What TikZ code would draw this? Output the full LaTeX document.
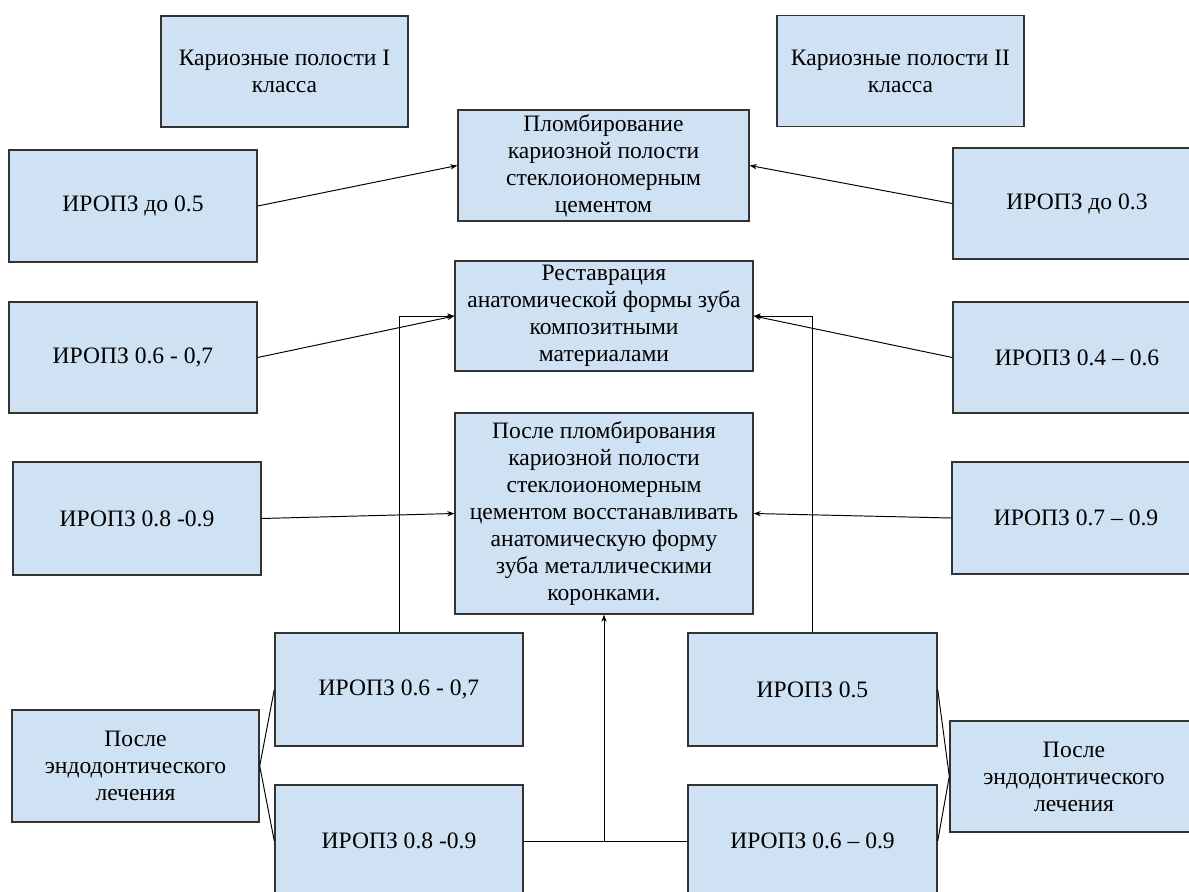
\documentclass[tikz,border=0pt]{standalone}
\usepackage{fontspec}
\setmainfont{Liberation Serif}
\usepackage{tikz}
\usetikzlibrary{arrows.meta}
\definecolor{boxfill}{HTML}{CFE2F3}
\definecolor{boxline}{HTML}{333333}

\begin{document}
\begin{tikzpicture}[x=0.2mm,y=0.2mm]
\tikzstyle{every node}+=[inner sep=0pt]
\tikzstyle{box}=[draw=boxline,fill=boxfill,line width=0.8pt,align=center,font=\fontsize{13.4}{15.4}\selectfont,minimum width=49.6mm,minimum height=22.4mm]
\tikzstyle{link}=[black,line width=0.55pt]
\tikzstyle{arr}=[link,-{Stealth[length=4pt,width=3pt]}]
\useasboundingbox (0,0) rectangle (1189,-892);
\fill [white] (0,0) rectangle (1189,-892);
\node [box,minimum width=49.4mm,minimum height=22.2mm] (c1) at (284.5,-71.5) {Кариозные полости I\\класса};
\node [box,minimum width=49.4mm,minimum height=22.2mm] (c2) at (900.5,-71) {Кариозные полости II\\класса};
\node [box,minimum width=58.2mm,minimum height=22.2mm] (p) at (603.5,-165.5) {Пломбирование\\кариозной полости\\стеклоиономерным\\цементом};
\node [box,minimum width=59.6mm,minimum height=22mm] (r) at (604,-316) {Реставрация\\анатомической формы зуба\\композитными\\материалами};
\node [box,minimum width=59.6mm,minimum height=40.2mm] (a) at (604,-513.5) {После пломбирования\\кариозной полости\\стеклоиономерным\\цементом восстанавливать\\анатомическую форму\\зуба металлическими\\коронками.};
\node [box] (l1) at (133,-206) {ИРОПЗ до 0.5};
\node [box,minimum height=22.2mm] (l2) at (133,-357.5) {ИРОПЗ 0.6 - 0,7};
\node [box,minimum height=22.6mm] (l3) at (137,-518.5) {ИРОПЗ 0.8 -0.9};
\node [box,minimum height=22.2mm] (r1) at (1077,-203.5) {ИРОПЗ до 0.3};
\node [box,minimum height=22.2mm] (r2) at (1077,-357.5) {ИРОПЗ 0.4 – 0.6};
\node [box] (r3) at (1076,-518) {ИРОПЗ 0.7 – 0.9};
\node [box,minimum height=22.6mm] (m1) at (399,-689.5) {ИРОПЗ 0.6 - 0,7};
\node [box] (m2) at (399,-841) {ИРОПЗ 0.8 -0.9};
\node [box,minimum width=49.8mm,minimum height=22.6mm] (n1) at (812.5,-689.5) {ИРОПЗ 0.5};
\node [box,minimum width=49.8mm] (n2) at (812.5,-841) {ИРОПЗ 0.6 – 0.9};
\node [box,minimum width=49.4mm,minimum height=22.4mm] (e1) at (135.5,-766) {После\\эндодонтического\\лечения};
\node [box,minimum height=22.2mm] (e2) at (1074,-776.5) {После\\эндодонтического\\лечения};
\coordinate (j) at (m2.east -| a.south);
\draw [arr] (l1.east) -- (p.west);
\draw [arr] (r1.west) -- (p.east);
\draw [arr] (l2.east) -- (r.west);
\draw [arr] (r2.west) -- (r.east);
\draw [arr] (l3.east) -- (a.west);
\draw [arr] (r3.west) -- (a.east);
\draw [arr] (m1.north) |- (r.west);
\draw [arr] (n1.north) |- (r.east);
\draw [link] (m2.east) -- (n2.west);
\draw [arr] (j) -- (a.south);
\draw [link] (e1.east) -- (m1.west);
\draw [link] (e1.east) -- (m2.west);
\draw [link] (e2.west) -- (n1.east);
\draw [link] (e2.west) -- (n2.east);
\end{tikzpicture}
\end{document}
